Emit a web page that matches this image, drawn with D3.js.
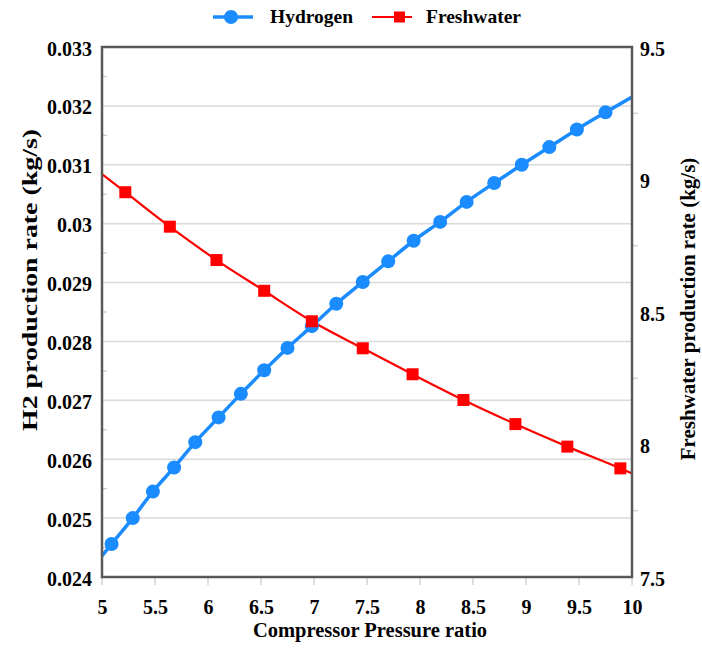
<!DOCTYPE html>
<html>
<head>
<meta charset="utf-8">
<script src="https://cdn.jsdelivr.net/npm/d3@7"></script>
<style>
  body { margin: 0; background: #fff; }
  svg { display: block; font-family: "Liberation Serif", "Times New Roman", serif; font-weight: bold; }
</style>
</head>
<body>
<svg id="chart"></svg>
<script>
// compressor pressure ratio at each hydrogen point (first and last are the line ends)
const h2Ratio = [5, 5.09, 5.29, 5.48, 5.68, 5.88, 6.10, 6.31, 6.53, 6.75, 6.98, 7.21, 7.46, 7.70, 7.94, 8.19, 8.44, 8.70, 8.96, 9.22, 9.48, 9.75, 10];
const h2Rate = [0.02436, 0.02456, 0.02500, 0.02545, 0.02586, 0.02629, 0.02671, 0.02711, 0.02751, 0.02789, 0.02826, 0.02864, 0.02901, 0.02936, 0.02971, 0.03003, 0.03037, 0.03069, 0.03100, 0.03130, 0.03160, 0.03189, 0.03215];

const fwRatio = [5, 5.22, 5.64, 6.08, 6.53, 6.98, 7.46, 7.93, 8.41, 8.90, 9.39, 9.89, 10];
const fwRate = [9.020, 8.952, 8.822, 8.696, 8.580, 8.465, 8.363, 8.265, 8.168, 8.077, 7.992, 7.910, 7.891];

const xTicks = [5, 5.5, 6, 6.5, 7, 7.5, 8, 8.5, 9, 9.5, 10];
const h2Ticks = [0.024, 0.025, 0.026, 0.027, 0.028, 0.029, 0.03, 0.031, 0.032, 0.033];
const fwTicks = [7.5, 8, 8.5, 9, 9.5];

const width = 702;
const height = 650;
const margin = { top: 47, right: 70, bottom: 73, left: 102 };
const plotW = width - margin.left - margin.right;
const plotH = height - margin.top - margin.bottom;

const blue = "#1a8cff";
const red = "#ff0000";
const frame = "#595959";

const svg = d3.select("#chart").attr("width", width).attr("height", height);
const g = svg.append("g").attr("transform", "translate(" + margin.left + "," + margin.top + ")");

const xScale = d3.scaleLinear().domain([5, 10]).range([0, plotW]);
const yLeft = d3.scaleLinear().domain([0.024, 0.033]).range([plotH, 0]);
const yRight = d3.scaleLinear().domain([7.5, 9.5]).range([plotH, 0]);

// horizontal gridlines
g.append("g")
  .selectAll("line")
  .data(h2Ticks)
  .enter()
  .append("line")
  .attr("x1", 0)
  .attr("x2", plotW)
  .attr("y1", (d) => yLeft(d))
  .attr("y2", (d) => yLeft(d))
  .attr("stroke", "#d9d9d9")
  .attr("stroke-width", 1.5);

// small ticks
const minorLeft = h2Ticks.slice(0, -1).map((d) => d + 0.0005);
g.append("g")
  .selectAll("line")
  .data(minorLeft)
  .enter()
  .append("line")
  .attr("x1", 0)
  .attr("x2", 5)
  .attr("y1", (d) => yLeft(d))
  .attr("y2", (d) => yLeft(d))
  .attr("stroke", "#c8c8c8")
  .attr("stroke-width", 1.2);

g.append("g")
  .selectAll("line")
  .data(xTicks)
  .enter()
  .append("line")
  .attr("x1", (d) => xScale(d))
  .attr("x2", (d) => xScale(d))
  .attr("y1", plotH)
  .attr("y2", plotH + 8)
  .attr("stroke", "#c8c8c8")
  .attr("stroke-width", 1.2);

const minorRight = fwTicks.slice(0, -1).map((d) => d + 0.25);
g.append("g")
  .selectAll("line")
  .data(minorRight)
  .enter()
  .append("line")
  .attr("x1", plotW)
  .attr("x2", plotW + 6)
  .attr("y1", (d) => yRight(d))
  .attr("y2", (d) => yRight(d))
  .attr("stroke", "#c8c8c8")
  .attr("stroke-width", 1.2);

// axes (labels only, frame drawn separately)
const fmt = (d) => String(+d.toFixed(3));

const leftAxis = g.append("g").call(d3.axisLeft(yLeft).tickValues(h2Ticks).tickFormat(fmt).tickSize(0).tickPadding(10));
const bottomAxis = g
  .append("g")
  .attr("transform", "translate(0," + plotH + ")")
  .call(d3.axisBottom(xScale).tickValues(xTicks).tickFormat(fmt).tickSize(0).tickPadding(23));
const rightAxis = g
  .append("g")
  .attr("transform", "translate(" + plotW + ",0)")
  .call(d3.axisRight(yRight).tickValues(fwTicks).tickFormat(fmt).tickSize(0).tickPadding(8));

[leftAxis, bottomAxis, rightAxis].forEach((a) => {
  a.select(".domain").remove();
  a.selectAll("text")
    .attr("font-family", "Liberation Serif, Times New Roman, serif")
    .attr("font-weight", "bold")
    .attr("font-size", 20)
    .attr("fill", "#000");
});
leftAxis.selectAll("text").attr("dy", "0.4em");
rightAxis.selectAll("text").attr("dy", "0.4em");
bottomAxis.selectAll("text").attr("dy", "0.68em");

// lines
const h2Points = h2Ratio.map((r, i) => ({ x: r, y: h2Rate[i] }));
const fwPoints = fwRatio.map((r, i) => ({ x: r, y: fwRate[i] }));

const h2Line = d3
  .line()
  .x((d) => xScale(d.x))
  .y((d) => yLeft(d.y))
  .curve(d3.curveMonotoneX);
const fwLine = d3
  .line()
  .x((d) => xScale(d.x))
  .y((d) => yRight(d.y))
  .curve(d3.curveMonotoneX);

g.append("path")
  .attr("d", fwLine(fwPoints))
  .attr("fill", "none")
  .attr("stroke", red)
  .attr("stroke-width", 2.2);

g.append("path")
  .attr("d", h2Line(h2Points))
  .attr("fill", "none")
  .attr("stroke", blue)
  .attr("stroke-width", 3.5);

// markers (line ends carry no marker)
g.selectAll(".h2dot")
  .data(h2Points.slice(1, -1))
  .enter()
  .append("circle")
  .attr("class", "h2dot")
  .attr("cx", (d) => xScale(d.x))
  .attr("cy", (d) => yLeft(d.y))
  .attr("r", 7)
  .attr("fill", blue);

g.selectAll(".fwdot")
  .data(fwPoints.slice(1, -1))
  .enter()
  .append("rect")
  .attr("class", "fwdot")
  .attr("x", (d) => xScale(d.x) - 6)
  .attr("y", (d) => yRight(d.y) - 6)
  .attr("width", 12)
  .attr("height", 12)
  .attr("fill", red);

// frame
g.append("rect")
  .attr("width", plotW)
  .attr("height", plotH)
  .attr("fill", "none")
  .attr("stroke", frame)
  .attr("stroke-width", 2.5);

// axis titles
svg.append("text")
  .attr("x", margin.left + plotW / 2 + 3)
  .attr("y", 637)
  .attr("text-anchor", "middle")
  .attr("font-size", 20.5)
  .text("Compressor Pressure ratio");

svg.append("text")
  .attr("transform", "translate(29,280) rotate(-90)")
  .attr("text-anchor", "middle")
  .attr("dominant-baseline", "central")
  .attr("font-size", 22)
  .attr("textLength", 302)
  .attr("lengthAdjust", "spacingAndGlyphs")
  .text("H2 production rate (kg/s)");

svg.append("text")
  .attr("transform", "translate(688,309) rotate(-90)")
  .attr("text-anchor", "middle")
  .attr("dominant-baseline", "central")
  .attr("font-size", 21)
  .text("Freshwater production rate (kg/s)");

// legend
const legend = svg.append("g");
legend.append("line").attr("x1", 213).attr("x2", 253).attr("y1", 17).attr("y2", 17).attr("stroke", blue).attr("stroke-width", 3.5);
legend.append("circle").attr("cx", 231).attr("cy", 17).attr("r", 7).attr("fill", blue);
legend.append("text").attr("x", 270).attr("y", 23).attr("font-size", 19.5).text("Hydrogen");

legend.append("line").attr("x1", 372).attr("x2", 412).attr("y1", 17).attr("y2", 17).attr("stroke", red).attr("stroke-width", 2.2);
legend.append("rect").attr("x", 394).attr("y", 11.5).attr("width", 11).attr("height", 11).attr("fill", red);
legend.append("text").attr("x", 426).attr("y", 23).attr("font-size", 19.5).text("Freshwater");
</script>
</body>
</html>
